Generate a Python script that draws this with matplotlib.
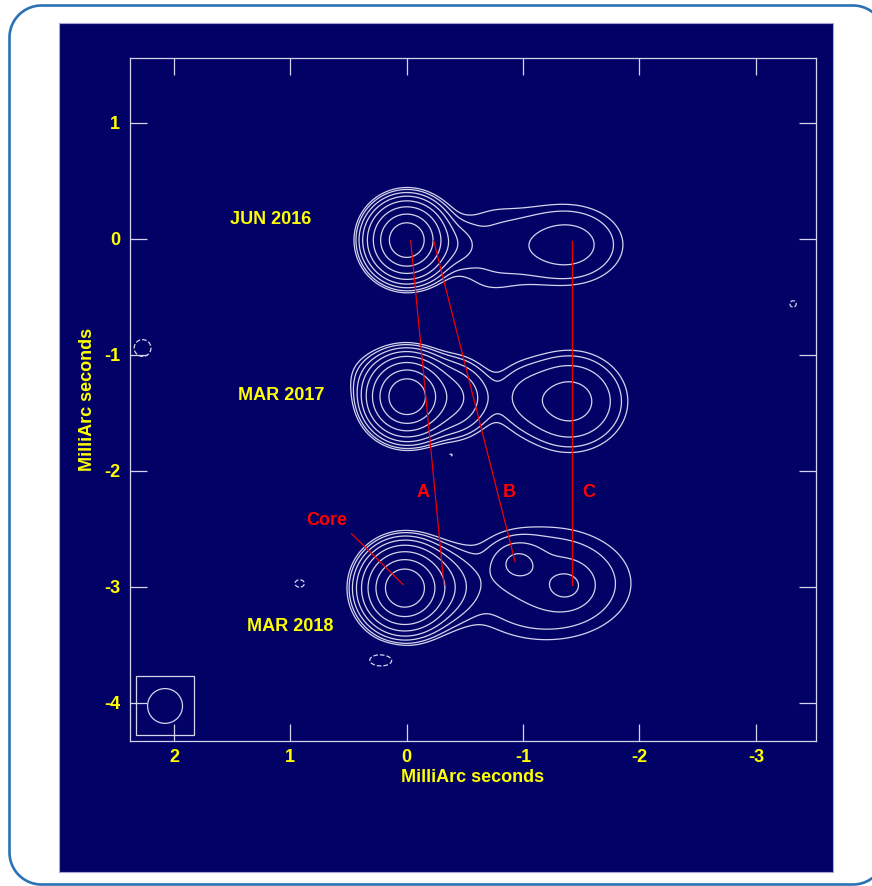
import matplotlib
matplotlib.use('Agg')
import matplotlib.pyplot as plt
import matplotlib.patches as mpatches
import matplotlib.transforms as mtransforms
import numpy as np

plt.rcParams['font.family'] = ['Liberation Sans', 'DejaVu Sans']
plt.rcParams['font.weight'] = 'bold'
plt.rcParams['axes.unicode_minus'] = False

# source model: gaussian components (mas, relative flux)
comp_x = [0.0, -0.42, -0.70, -1.38,
          0.0, -0.384, -0.95, -1.40, 0.30,
          0.02, -0.30, -0.95, -1.37, -1.20,
          0.92, 0.22, 2.27, -3.32, -0.38]
comp_y = [-0.01, -0.05, -0.10, -0.05,
          -1.36, -1.37, -1.35, -1.40, -1.15,
          -3.01, -3.00, -2.79, -2.99, -2.97,
          -2.97, -3.63, -0.94, -0.56, -1.86]
comp_amp = [1.0, 0.018, 0.0115, 0.0265,
            1.0, 0.079, 0.011, 0.0465, 0.008,
            1.0, 0.05, 0.026, 0.022, 0.024,
            -0.012, -0.012, -0.012, -0.011, -0.011]
comp_sx = [0.147, 0.12, 0.27, 0.32,
           0.15, 0.175, 0.16, 0.273, 0.20,
           0.16, 0.17, 0.13, 0.13, 0.51,
           0.05, 0.125, 0.09, 0.04, 0.03]
comp_sy = [0.147, 0.12, 0.36, 0.23,
           0.15, 0.175, 0.20, 0.24, 0.15,
           0.16, 0.17, 0.11, 0.11, 0.34,
           0.04, 0.065, 0.09, 0.04, 0.03]

levels = [-0.0087, 0.0087, 0.0123, 0.0205, 0.0365, 0.071, 0.149, 0.313, 0.598]

epochs = ['JUN 2016', 'MAR 2017', 'MAR 2018']
epoch_x = [1.17, 1.08, 1.00]
epoch_y = [0.17, -1.35, -3.34]

# component tracks (red)
track_names = ['A', 'B', 'C']
track_x0 = [-0.034, -0.232, -1.416]
track_y0 = [-0.015, -0.015, -0.015]
track_x1 = [-0.32, -0.93, -1.416]
track_y1 = [-2.98, -2.78, -2.98]
track_lx = [-0.14, -0.88, -1.56]
track_ly = [-2.19, -2.19, -2.19]
core_line_x = [0.475, 0.03]
core_line_y = [-2.54, -2.98]
core_label = (0.69, -2.43)

beam_x, beam_y, beam_d = 2.077, -4.026, 0.30

navy = '#020266'
pale = '#d4d4ee'
yellow = '#ffff00'

xg = np.linspace(-3.6, 2.45, 700)
yg = np.linspace(-4.4, 1.6, 700)
X, Y = np.meshgrid(xg, yg)
Z = np.zeros_like(X)
for cx, cy, a, sx, sy in zip(comp_x, comp_y, comp_amp, comp_sx, comp_sy):
    Z += a * np.exp(-((X - cx)**2 / (2 * sx**2) + (Y - cy)**2 / (2 * sy**2)))

fig = plt.figure(figsize=(8.72, 8.86), dpi=100)
fig.patch.set_facecolor('white')

# rounded frame (pixel coords, y up), sampled as a polyline
x0f, y0f, x1f, y1f, rr = 9.5, 1.5, 885.0, 880.5, 32.0
pts = []
for (cx, cy, a0) in [(x1f - rr, y1f - rr, 0), (x0f + rr, y1f - rr, 90),
                     (x0f + rr, y0f + rr, 180), (x1f - rr, y0f + rr, 270)]:
    t = np.radians(np.linspace(a0, a0 + 90, 30))
    pts += list(zip(cx + rr * np.cos(t), cy + rr * np.sin(t)))
frame = mpatches.Polygon(pts, closed=True, transform=mtransforms.IdentityTransform(),
                         facecolor='none', edgecolor='#2a72b5', lw=1.9, zorder=-2)
fig.patches.append(frame)
panel = mpatches.Rectangle((59 / 872, 1 - 872 / 886), (833 - 59) / 872, (872 - 23) / 886,
                           transform=fig.transFigure, facecolor=navy,
                           edgecolor='#a8a8d8', lw=0.8, zorder=-1)
fig.patches.append(panel)

ax = fig.add_axes([130 / 872, 1 - 741 / 886, (816 - 130) / 872, (741 - 58) / 886])
ax.set_facecolor(navy)

ax.contour(X, Y, Z, levels=levels, colors=pale, linewidths=0.9,
           negative_linestyles='dashed')

for x0, y0, x1, y1, nm, lx, ly in zip(track_x0, track_y0, track_x1, track_y1,
                                      track_names, track_lx, track_ly):
    ax.plot([x0, x1], [y0, y1], color='#ee0000', lw=0.9)
    ax.text(lx, ly, nm, color='#ff0000', fontsize=13, fontweight='bold',
            ha='center', va='center')
ax.plot(core_line_x, core_line_y, color='#ee0000', lw=0.9)
ax.text(core_label[0], core_label[1], 'Core', color='#ff0000', fontsize=13,
        fontweight='bold', ha='center', va='center')

for lab, ex, ey in zip(epochs, epoch_x, epoch_y):
    ax.text(ex, ey, lab, color=yellow, fontsize=13, fontweight='bold',
            ha='center', va='center')

# restoring beam
ax.add_patch(mpatches.Rectangle((beam_x - 0.25, beam_y - 0.25), 0.5, 0.51,
                                facecolor='none', edgecolor=pale, lw=0.9))
ax.add_patch(mpatches.Ellipse((beam_x, beam_y), beam_d, beam_d,
                              facecolor='none', edgecolor=pale, lw=0.9))

ax.set_xlim(2.378, -3.517)
ax.set_ylim(-4.328, 1.56)
ax.set_xticks([2, 1, 0, -1, -2, -3])
ax.set_yticks([1, 0, -1, -2, -3, -4])
ax.tick_params(direction='in', length=12.2, width=0.9, color=pale,
               top=True, right=True, labelcolor=yellow, labelsize=13, pad=7)
ax.tick_params(axis='x', pad=6)
for lab in ax.get_xticklabels() + ax.get_yticklabels():
    lab.set_fontweight('bold')
for sp in ax.spines.values():
    sp.set_color(pale)
    sp.set_linewidth(0.9)

ax.set_xlabel('MilliArc seconds', color=yellow, fontsize=13, fontweight='bold', va='center')
ax.set_ylabel('MilliArc seconds', color=yellow, fontsize=13, fontweight='bold', va='center')
ax.xaxis.set_label_coords(0.5, -(777 - 741) / 683)
ax.yaxis.set_label_coords(-(130 - 88) / 686, 0.5)

fig.savefig('out.png', dpi=100, facecolor='white')
